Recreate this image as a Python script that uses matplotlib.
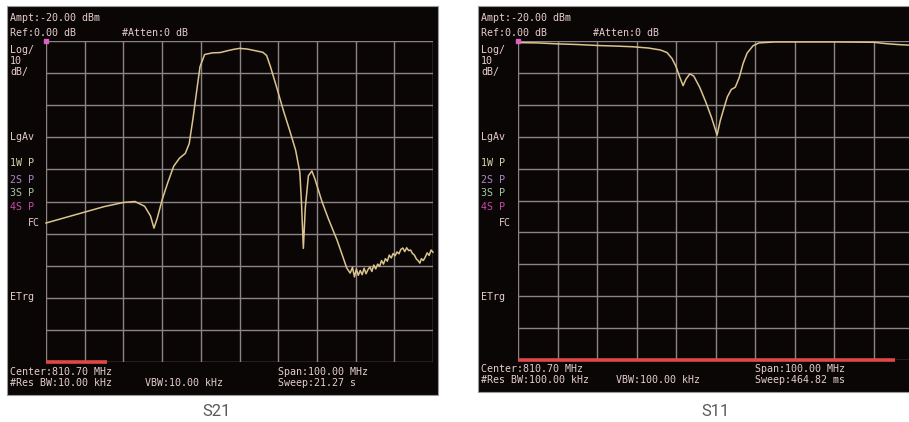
import matplotlib
matplotlib.use("Agg")
import matplotlib.pyplot as plt
from matplotlib.patches import Rectangle

W, H = 909, 422

# frequency axis: center 810.70 MHz, span 100 MHz, 10 divisions
f_start = 760.7
div_mhz = 10.0

# S21 trace (division, dB)
s21_div = [0.0, 0.5, 1.0, 1.5, 2.0, 2.3, 2.55, 2.7, 2.79, 2.88, 3.0, 3.15, 3.3, 3.45,
           3.6, 3.7, 3.8, 3.9, 3.98, 4.1, 4.3, 4.5, 4.7, 4.85, 5.0, 5.2, 5.4, 5.6,
           5.7, 5.8, 5.95, 6.13, 6.3, 6.45, 6.56, 6.6, 6.65, 6.7, 6.78, 6.87, 6.95,
           7.13, 7.3, 7.52, 7.65, 7.77, 7.86, 7.92, 7.97, 8.02, 8.07, 8.12, 8.17,
           8.22, 8.27, 8.32, 8.37, 8.42, 8.47, 8.52, 8.57, 8.62, 8.67, 8.72, 8.77,
           8.82, 8.87, 8.92, 8.97, 9.02, 9.07, 9.12, 9.17, 9.22, 9.27, 9.32, 9.37,
           9.42, 9.47, 9.52, 9.57, 9.62, 9.66, 9.7, 9.75, 9.8, 9.85, 9.9, 9.95, 10.0]
s21_db = [-56.7, -55.0, -53.3, -51.6, -50.3, -50.0, -51.5, -54.5, -58.3, -55.0, -49.5,
          -44.0, -39.0, -36.5, -35.0, -32.0, -24.0, -15.0, -8.0, -4.2, -3.7, -3.6,
          -3.0, -2.6, -2.3, -2.5, -3.0, -3.5, -4.5, -8.0, -14.0, -21.5, -28.0, -34.0,
          -41.0, -50.0, -64.6, -52.0, -42.0, -40.5, -43.0, -50.0, -55.5, -62.0,
          -66.5, -70.7, -72.3, -70.5, -73.5, -71.0, -73.0, -71.5, -72.8, -70.8,
          -72.5, -71.2, -70.4, -71.8, -69.8, -71.0, -69.5, -70.2, -68.4, -69.5,
          -67.8, -68.6, -66.7, -67.6, -66.2, -66.9, -65.7, -66.3, -64.9, -64.5,
          -65.6, -64.4, -65.3, -65.1, -66.2, -66.7, -67.9, -68.5, -69.2, -67.8,
          -68.4, -67.3, -66.0, -66.8, -65.1, -65.8]

# S11 trace (division, dB)
s11_div = [0.0, 0.5, 1.0, 1.5, 2.0, 2.5, 2.9, 3.3, 3.6, 3.77, 3.9, 4.0, 4.1, 4.18,
           4.25, 4.35, 4.45, 4.6, 4.75, 4.9, 5.04, 5.12, 5.2, 5.3, 5.4, 5.5, 5.6,
           5.7, 5.8, 5.95, 6.1, 6.5, 7.0, 8.0, 9.0, 9.3, 9.6, 9.9, 10.0]
s11_db = [-0.5, -0.6, -0.9, -1.1, -1.4, -1.6, -1.8, -2.2, -2.8, -3.6, -5.5, -8.0,
          -11.5, -14.0, -12.0, -10.3, -11.0, -14.5, -19.0, -24.0, -29.5, -25.0,
          -21.6, -17.5, -15.2, -14.5, -11.5, -7.0, -3.8, -1.5, -0.6, -0.3, -0.3,
          -0.3, -0.4, -0.8, -1.1, -1.3, -1.4]

side_labels = ["Log/", "10", "dB/", "LgAv", "1W P", "2S P", "3S P", "4S P", "FC", "ETrg"]
side_y = [50, 61, 72, 137, 163, 180, 193, 207, 223, 297]
side_colors = ["#e6cccc", "#e6cccc", "#e6cccc", "#e6cccc", "#d6d6a8", "#a68ac8",
               "#a8c8a8", "#c848a8", "#e6cccc", "#e6cccc"]

panels = [
    dict(name="S21", freq=s21_div, db=s21_db, screen=(7, 6, 438, 395),
         grid=(46, 41, 433, 362), red_end=107, rbw="10.00 kHz", vbw="10.00 kHz",
         sweep="21.27 s", span_x=278),
    dict(name="S11", freq=s11_div, db=s11_db, screen=(478, 6, 912, 392),
         grid=(518, 41, 913, 360), red_end=895, rbw="100.00 kHz", vbw="100.00 kHz",
         sweep="464.82 ms", span_x=755),
]

fig = plt.figure(figsize=(W / 100, H / 100), dpi=100)
fig.patch.set_facecolor("white")

mono = "DejaVu Sans Mono"
txt = "#e6cccc"
fs = 7.2


def fx(px):
    return px / W


def fy(py):
    return 1 - py / H


for p in panels:
    x0, y0, x1, y1 = p["screen"]
    fig.patches.append(Rectangle((fx(x0), fy(y1)), fx(x1 - x0), (y1 - y0) / H,
                                 transform=fig.transFigure, facecolor="#0b0606",
                                 edgecolor="#9a9a9a", linewidth=0.8, zorder=-5))

    gx0, gy0, gx1, gy1 = p["grid"]
    ax = fig.add_axes([fx(gx0), fy(gy1), fx(gx1 - gx0), (gy1 - gy0) / H])
    ax.set_facecolor("#0b0606")
    ax.set_xlim(f_start, f_start + 10 * div_mhz)
    ax.set_ylim(-100, 0)
    for k in range(11):
        ax.axvline(f_start + k * div_mhz, color="#8c8484", lw=1.0, zorder=1)
        ax.axhline(-10 * k, color="#8c8484", lw=1.0, zorder=1)
    freqs = [f_start + d * div_mhz for d in p["freq"]]
    ax.plot(freqs, p["db"], color="#dcc48e", lw=1.1, zorder=3, clip_on=False)
    ax.plot([f_start], [0], marker="s", ms=2.5, color="#e060c0", clip_on=False, zorder=4)
    # red marker bar along the bottom edge
    ax.plot([f_start, f_start + (p["red_end"] - gx0) / (gx1 - gx0) * 10 * div_mhz],
            [-100, -100], color="#e04848", lw=2.6, clip_on=False, zorder=4,
            solid_capstyle="butt")
    ax.set_xticks([])
    ax.set_yticks([])
    for s in ax.spines.values():
        s.set_visible(False)

    tx = x0 + 3
    fig.text(fx(tx), fy(18), "Ampt:-20.00 dBm", color=txt, family=mono, fontsize=fs, va="center")
    fig.text(fx(tx), fy(33), "Ref:0.00 dB", color=txt, family=mono, fontsize=fs, va="center")
    fig.text(fx(tx + 112), fy(33), "#Atten:0 dB", color=txt, family=mono, fontsize=fs, va="center")
    for lab, ly, lc in zip(side_labels, side_y, side_colors):
        if lab == "FC":
            fig.text(fx(tx + 30), fy(ly), lab, color=lc, family=mono, fontsize=fs,
                     va="center", ha="right")
        else:
            fig.text(fx(tx), fy(ly), lab, color=lc, family=mono, fontsize=fs, va="center")

    by = y1 - 23
    fig.text(fx(tx), fy(by), "Center:810.70 MHz", color=txt, family=mono, fontsize=fs, va="center")
    fig.text(fx(tx), fy(by + 11), "#Res BW:" + p["rbw"], color=txt, family=mono, fontsize=fs, va="center")
    fig.text(fx(tx + 135), fy(by + 11), "VBW:" + p["vbw"], color=txt, family=mono, fontsize=fs, va="center")
    fig.text(fx(p["span_x"]), fy(by), "Span:100.00 MHz", color=txt, family=mono,
             fontsize=fs, va="center")
    fig.text(fx(p["span_x"]), fy(by + 11), "Sweep:" + p["sweep"], color=txt, family=mono,
             fontsize=fs, va="center")

fig.text(fx(217), fy(412), "S21", color="#5a5a5a", family="Roboto", fontsize=12,
         ha="center", va="center")
fig.text(fx(715), fy(412), "S11", color="#5a5a5a", family="Roboto", fontsize=12,
         ha="center", va="center")

fig.savefig("out.png", dpi=100, facecolor="white")
